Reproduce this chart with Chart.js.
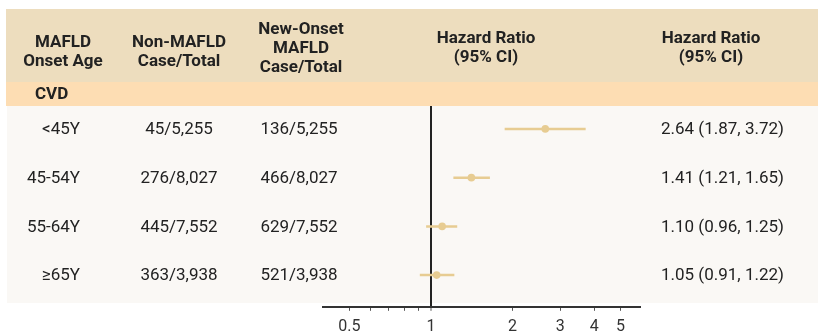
<!DOCTYPE html>
<html>
<head>
<meta charset="utf-8">
<script src="https://cdn.jsdelivr.net/npm/chart.js@4/dist/chart.umd.min.js"></script>
<style>
  html, body { margin: 0; padding: 0; background: #fff; }
  canvas { display: block; }
</style>
</head>
<body>
<canvas id="forest" width="822" height="334"></canvas>
<script>
const ageGroups = ['<45Y', '45-54Y', '55-64Y', '≥65Y']
const nonMafld = ['45/5,255', '276/8,027', '445/7,552', '363/3,938']
const newOnset = ['136/5,255', '466/8,027', '629/7,552', '521/3,938']
const hr = [2.64, 1.41, 1.10, 1.05]
const lower = [1.87, 1.21, 0.96, 0.91]
const upper = [3.72, 1.65, 1.25, 1.22]
const xTicks = [0.5, 0.6, 0.7, 0.8, 0.9, 1, 2, 3, 4, 5]
const xLabels = [0.5, 1, 2, 3, 4, 5]

const tan = '#E7CC92'
const headerBg = '#EDDDBE'
const groupBg = '#FDDDB3'
const bodyBg = '#FAF8F5'
const ink = '#222222'
const fontFamily = "Roboto, 'Noto Sans', sans-serif"

const tablePlugin = {
  id: 'table',
  beforeDraw(chart) {
    const ctx = chart.ctx
    ctx.save()
    ctx.fillStyle = '#ffffff'
    ctx.fillRect(0, 0, chart.width, chart.height)
    ctx.fillStyle = headerBg
    ctx.fillRect(6, 9, 812, 73)
    ctx.fillStyle = groupBg
    ctx.fillRect(6, 82, 812, 24)
    ctx.fillStyle = bodyBg
    ctx.fillRect(7, 106, 811, 197)
    ctx.restore()
  },
  afterDraw(chart) {
    const ctx = chart.ctx
    const y = chart.scales.y
    ctx.save()
    ctx.fillStyle = ink
    ctx.textBaseline = 'middle'
    ctx.textAlign = 'center'
    ctx.font = 'bold 17px ' + fontFamily
    ctx.fillText('MAFLD', 63, 43)
    ctx.fillText('Onset Age', 63, 62)
    ctx.fillText('Non-MAFLD', 179, 43)
    ctx.fillText('Case/Total', 179, 62)
    ctx.fillText('New-Onset', 301, 30)
    ctx.fillText('MAFLD', 301, 49)
    ctx.fillText('Case/Total', 301, 68)
    ctx.fillText('Hazard Ratio', 486, 39)
    ctx.fillText('(95% CI)', 486, 58)
    ctx.fillText('Hazard Ratio', 711, 39)
    ctx.fillText('(95% CI)', 711, 58)
    ctx.textAlign = 'left'
    ctx.fillText('CVD', 35, 95)

    ctx.font = '17px ' + fontFamily
    ageGroups.forEach((label, i) => {
      const py = y.getPixelForValue(i) + 1
      ctx.textAlign = 'right'
      ctx.fillText(label, 80, py)
      ctx.textAlign = 'center'
      ctx.fillText(nonMafld[i], 179, py)
      ctx.fillText(newOnset[i], 299, py)
      ctx.textAlign = 'left'
      ctx.fillText(`${hr[i].toFixed(2)} (${lower[i].toFixed(2)}, ${upper[i].toFixed(2)})`, 661, py)
    })
    ctx.restore()
  }
}

const ciSets = hr.map((v, i) => ({
  type: 'line',
  data: [{ x: lower[i], y: i }, { x: upper[i], y: i }],
  borderColor: tan,
  borderWidth: 2.5,
  pointRadius: 0,
  order: 2,
}))

new Chart(document.getElementById('forest'), {
  type: 'scatter',
  data: {
    datasets: [
      ...ciSets,
      {
        data: hr.map((v, i) => ({ x: v, y: i })),
        backgroundColor: tan,
        borderWidth: 0,
        pointRadius: 3.8,
        order: 1,
      }
    ]
  },
  plugins: [tablePlugin],
  options: {
    responsive: false,
    animation: false,
    devicePixelRatio: 1,
    layout: { padding: { left: 323, right: 182, top: 106, bottom: -10 } },
    plugins: {
      legend: { display: false },
      tooltip: { enabled: false },
    },
    scales: {
      x: {
        type: 'logarithmic',
        min: 0.4,
        max: 5.9,
        afterBuildTicks: scale => {
          scale.ticks = xTicks.map(v => ({ value: v }))
        },
        ticks: {
          autoSkip: false,
          maxRotation: 0,
          padding: 7,
          color: '#333',
          font: { family: fontFamily, size: 16 },
          callback: v => xLabels.includes(v) ? String(v) : '',
        },
        grid: {
          drawOnChartArea: true,
          color: c => c.tick && c.tick.value === 1 ? ink : 'rgba(0,0,0,0)',
          lineWidth: c => c.tick && c.tick.value === 1 ? 2 : 1,
          tickColor: '#555',
          tickWidth: 1,
          tickLength: 4,
        },
        border: { display: true, color: '#333', width: 2 },
      },
      y: {
        type: 'linear',
        display: false,
        reverse: true,
        min: -0.47,
        max: 3.65,
      }
    }
  }
})
</script>
</body>
</html>
